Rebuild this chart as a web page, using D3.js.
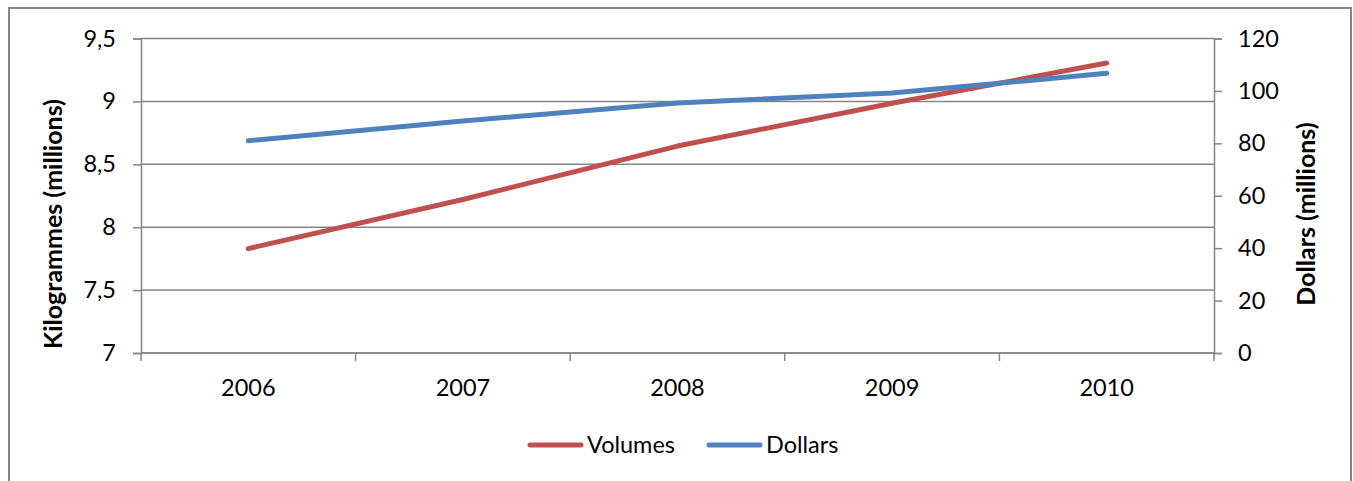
<!DOCTYPE html>
<html>
<head>
<meta charset="utf-8">
<script src="https://cdn.jsdelivr.net/npm/d3@7"></script>
<style>
  body { margin: 0; background: #fff; }
  text { font-family: Lato, "Open Sans", sans-serif; fill: #000; }
</style>
</head>
<body>
<svg id="chart"></svg>
<script>
// data
const years = ["2006", "2007", "2008", "2009", "2010"];
const volumes = [7.83, 8.22, 8.645, 8.985, 9.305];   // kilogrammes (millions), left axis
const dollars = [81.0, 88.5, 95.4, 99.2, 106.7];     // dollars (millions), right axis
const leftTicks = [7, 7.5, 8, 8.5, 9, 9.5];
const rightTicks = [0, 20, 40, 60, 80, 100, 120];

const width = 1353;
const height = 481;
const plot = { left: 141, right: 1214, top: 38.5, bottom: 353 };

const red = "#C0504D";
const blue = "#4F81BD";
const grey = "#868686";
const tickFont = "23.5px";
const titleFont = "25px";

const svg = d3.select("#chart")
    .attr("width", width)
    .attr("height", height);

// outer chart border
svg.append("rect")
    .attr("x", 9).attr("y", 8)
    .attr("width", 1342).attr("height", 480)
    .attr("fill", "#fff")
    .attr("stroke", grey)
    .attr("stroke-width", 2);

const x = d3.scaleBand()
    .domain(years)
    .range([plot.left, plot.right]);

const yLeft = d3.scaleLinear()
    .domain([7, 9.5])
    .range([plot.bottom, plot.top]);

const yRight = d3.scaleLinear()
    .domain([0, 120])
    .range([plot.bottom, plot.top]);

// gridlines
svg.selectAll(".grid")
    .data(leftTicks)
    .enter()
    .append("line")
    .attr("class", "grid")
    .attr("x1", plot.left)
    .attr("x2", plot.right)
    .attr("y1", d => yLeft(d))
    .attr("y2", d => yLeft(d))
    .attr("stroke", grey)
    .attr("stroke-width", 1.5);

// left axis
const leftAxis = svg.append("g")
    .attr("transform", "translate(" + plot.left + ",0)")
    .call(d3.axisLeft(yLeft).tickValues(leftTicks).tickSize(8).tickPadding(17)
        .tickFormat(d => String(d).replace(".", ",")));

// right axis
const rightAxis = svg.append("g")
    .attr("transform", "translate(" + plot.right + ",0)")
    .call(d3.axisRight(yRight).tickValues(rightTicks).tickSize(8).tickPadding(16));

// bottom axis: ticks sit between categories
const bottomAxis = svg.append("g")
    .attr("transform", "translate(0," + plot.bottom + ")");
bottomAxis.append("line")
    .attr("x1", plot.left).attr("x2", plot.right)
    .attr("stroke", grey).attr("stroke-width", 1.5);
bottomAxis.selectAll(".xtick")
    .data(years.concat(["end"]))
    .enter()
    .append("line")
    .attr("class", "xtick")
    .attr("x1", (d, i) => plot.left + i * x.step())
    .attr("x2", (d, i) => plot.left + i * x.step())
    .attr("y1", 0).attr("y2", 8)
    .attr("stroke", grey).attr("stroke-width", 1.5);
bottomAxis.selectAll(".xlabel")
    .data(years)
    .enter()
    .append("text")
    .attr("class", "xlabel")
    .attr("x", d => x(d) + x.bandwidth() / 2)
    .attr("y", 43)
    .style("text-anchor", "middle")
    .style("font-size", tickFont)
    .text(d => d);

[leftAxis, rightAxis].forEach(g => {
    g.select(".domain").attr("stroke", grey).attr("stroke-width", 1.5);
    g.selectAll(".tick line").attr("stroke", grey).attr("stroke-width", 1.5);
    g.selectAll(".tick text")
        .style("font-size", tickFont)
        .style("font-family", "Lato, 'Open Sans', sans-serif")
        .attr("fill", "#000");
});

// lines
const volLine = d3.line()
    .x((d, i) => x(years[i]) + x.bandwidth() / 2)
    .y(d => yLeft(d));

const dolLine = d3.line()
    .x((d, i) => x(years[i]) + x.bandwidth() / 2)
    .y(d => yRight(d));

svg.append("path")
    .datum(volumes)
    .attr("d", volLine)
    .attr("fill", "none")
    .attr("stroke", red)
    .attr("stroke-width", 5)
    .attr("stroke-linecap", "round")
    .attr("stroke-linejoin", "round");

svg.append("path")
    .datum(dollars)
    .attr("d", dolLine)
    .attr("fill", "none")
    .attr("stroke", blue)
    .attr("stroke-width", 5)
    .attr("stroke-linecap", "round")
    .attr("stroke-linejoin", "round");

// axis titles
svg.append("text")
    .attr("transform", "translate(62,224) rotate(-90)")
    .style("text-anchor", "middle")
    .style("font-weight", "bold")
    .style("font-size", titleFont)
    .text("Kilogrammes (millions)");

svg.append("text")
    .attr("transform", "translate(1315,214) rotate(-90)")
    .style("text-anchor", "middle")
    .style("font-weight", "bold")
    .style("font-size", titleFont)
    .text("Dollars (millions)");

// legend
const legend = [
    { name: "Volumes", color: red, x: 530 },
    { name: "Dollars", color: blue, x: 709 }
];
const lg = svg.selectAll(".legend")
    .data(legend)
    .enter()
    .append("g")
    .attr("class", "legend")
    .attr("transform", d => "translate(" + d.x + ",445)");
lg.append("line")
    .attr("x1", 0).attr("x2", 51)
    .attr("stroke", d => d.color)
    .attr("stroke-width", 5)
    .attr("stroke-linecap", "round");
lg.append("text")
    .attr("x", 57)
    .attr("y", 8)
    .style("font-size", tickFont)
    .text(d => d.name);
</script>
</body>
</html>
